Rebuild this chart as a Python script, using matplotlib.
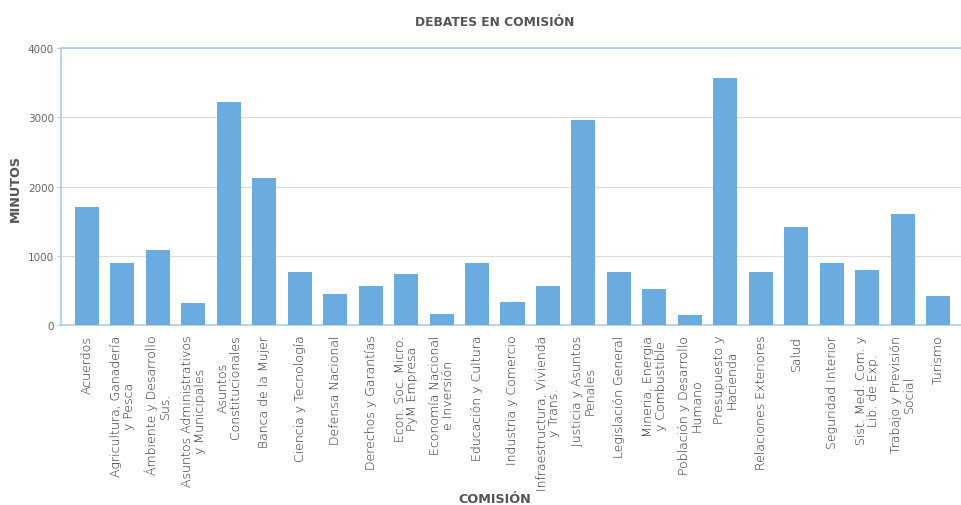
import matplotlib.pyplot as plt

# datos
comisiones = [
    "Acuerdos",
    "Agricultura, Ganadería\ny Pesca",
    "Ámbiente y Desarrollo\nSus.",
    "Asuntos Administrativos\ny Municipales",
    "Asuntos\nConstitucionales",
    "Banca de la Mujer",
    "Ciencia y Tecnología",
    "Defensa Nacional",
    "Derechos y Garantías",
    "Econ. Soc. Micro.\nPyM Empresa",
    "Economía Nacional\ne Inversión",
    "Educación y Cultura",
    "Industria y Comercio",
    "Infraestructura, Vivienda\ny Trans.",
    "Justicia y Asuntos\nPenales",
    "Legislación General",
    "Mineria, Energia\ny Combustible",
    "Población y Desarrollo\nHumano",
    "Presupuesto y\nHacienda",
    "Relaciones Exteriores",
    "Salud",
    "Seguridad Interior",
    "Sist. Med. Com. y\nLib. de Exp.",
    "Trabajo y Previsión\nSocial",
    "Turismo",
]
minutos = [1710, 900, 1090, 320, 3220, 2120, 770, 450, 560, 740, 160, 900,
           330, 560, 2960, 770, 520, 150, 3570, 770, 1415, 900, 800, 1600, 420]
yticks = [0, 1000, 2000, 3000, 4000]

plt.rcParams['font.family'] = ['DejaVu Sans']

bar_color = '#6aace0'
axis_color = '#a9cdeb'
text_color = '#555555'

fig = plt.figure(figsize=(9.62, 5.06), dpi=100)
ax = fig.add_axes([61 / 962, 1 - 326 / 506, (964 - 61) / 962, 277 / 506])

x = range(len(comisiones))
ax.bar(x, minutos, width=0.68, color=bar_color, zorder=3)

ax.set_xlim(-0.73, len(comisiones) - 0.27)
ax.set_ylim(0, 4000)
ax.set_yticks(yticks)
ax.set_yticklabels([str(v) for v in yticks], fontsize=7.5, color='#666666')
ax.yaxis.grid(True, color='#dddddd', linewidth=0.8, zorder=0)

ax.set_xticks(list(x))
ax.set_xticklabels(comisiones, rotation=90, ha='center', va='top',
                   multialignment='center', fontsize=9, color='#1e1e1e',
                   linespacing=1.05, fontweight='light')
ax.tick_params(axis='x', length=0, pad=7)
ax.tick_params(axis='y', length=3, color=axis_color, pad=2)

for side in ['left', 'bottom', 'top']:
    ax.spines[side].set_color(axis_color)
    ax.spines[side].set_linewidth(1.2)
ax.spines['right'].set_visible(False)

fig.text(15 / 962, 1 - 188 / 506, 'MINUTOS', ha='center', va='center',
         rotation=90, fontsize=9.2, fontweight='bold', color=text_color)
fig.text(495 / 962, 1 - 500 / 506, 'COMISIÓN', ha='center', va='center',
         fontsize=9.2, fontweight='bold', color=text_color)
fig.text(495 / 962, 1 - 22 / 506, 'DEBATES EN COMISIÓN', ha='center',
         va='center', fontsize=8.8, fontweight='bold', color=text_color)

fig.savefig('out.png', dpi=100)
